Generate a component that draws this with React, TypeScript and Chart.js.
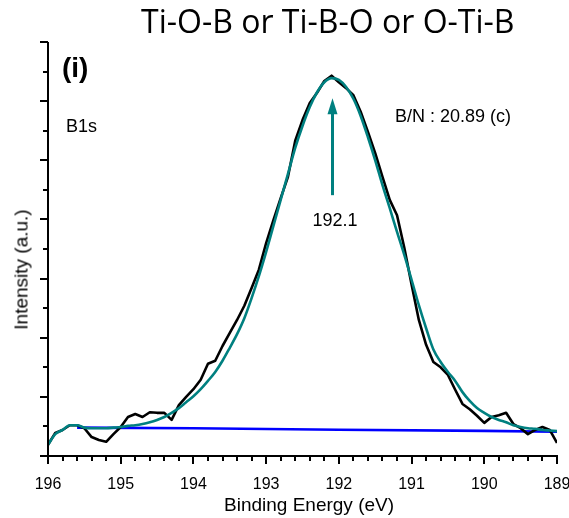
import React, { useEffect, useRef } from "react";
import { Chart, registerables } from "chart.js";

Chart.register(...registerables);

// Binding energy (eV), 0.1 eV steps
const ENERGY = [
  196.0, 195.9, 195.8, 195.7, 195.6, 195.5, 195.4, 195.3, 195.2, 195.1,
  195.0, 194.9, 194.8, 194.7, 194.6, 194.5, 194.4, 194.3, 194.2, 194.1,
  194.0, 193.9, 193.8, 193.7, 193.6, 193.5, 193.4, 193.3, 193.2, 193.1,
  193.0, 192.9, 192.8, 192.7, 192.6, 192.5, 192.4, 192.3, 192.2, 192.1,
  192.0, 191.9, 191.8, 191.7, 191.6, 191.5, 191.4, 191.3, 191.2, 191.1,
  191.0, 190.9, 190.8, 190.7, 190.6, 190.5, 190.4, 190.3, 190.2, 190.1,
  190.0, 189.9, 189.8, 189.7, 189.6, 189.5, 189.4, 189.3, 189.2, 189.1,
  189.0,
];

// Measured B1s spectrum (black)
const RAW = [
  190, 390, 440, 520, 520, 470, 320, 270, 240, 370,
  490, 660, 710, 660, 740, 730, 730, 610, 860, 1000,
  1130, 1290, 1560, 1610, 1860, 2080, 2300, 2540, 2840, 3150,
  3600, 3990, 4360, 4720, 5330, 5680, 5970, 6140, 6340, 6430,
  6320, 6220, 6100, 5820, 5480, 5120, 4720, 4330, 4070, 3520,
  2900, 2300, 1880, 1590, 1500, 1370, 1120, 880, 790, 680,
  560, 660, 690, 730, 540, 470, 370, 440, 490, 440,
  220,
];

// Fitted envelope (teal)
const FIT = [
  190, 370, 440, 520, 520, 480, 470, 470, 470, 480,
  490, 510, 520, 540, 570, 610, 660, 730, 810, 910,
  1010, 1130, 1270, 1420, 1610, 1830, 2060, 2330, 2670, 3040,
  3450, 3890, 4330, 4770, 5210, 5580, 5900, 6150, 6320, 6390,
  6360, 6240, 6040, 5750, 5390, 5000, 4580, 4190, 3790, 3400,
  2980, 2550, 2160, 1800, 1590, 1420, 1270, 1080, 930, 810,
  730, 660, 610, 570, 520, 490, 470, 460, 440, 430,
  420,
];

// Background (blue)
const BASE_E = [195.6, 194.0, 192.0, 190.0, 189.0];
const BASE_I = [480, 470, 445, 425, 410];

// Axis settings
const X_MIN = 189;
const X_MAX = 196;
const Y_MIN = 0;
const Y_MAX = 7000;

// Peak marker
const PEAK_E = 192.1;
const ARROW_FROM = 4410;
const ARROW_TO = 6050;

const TEAL = "#008080";
const FONT = "'Liberation Sans', Arial, Helvetica, sans-serif";

const axesPlugin = {
  id: "xpsAxes",
  afterDraw(chart: any) {
    const ctx = chart.ctx;
    const xs = chart.scales.x;
    const ys = chart.scales.y;
    const { left, right, top, bottom } = chart.chartArea;
    ctx.save();
    // arrow
    const ax = Math.round(xs.getPixelForValue(PEAK_E)) + 0.5;
    const ay0 = ys.getPixelForValue(ARROW_FROM);
    const ay1 = ys.getPixelForValue(ARROW_TO);
    const headLen = 16;
    const headHalf = 5;
    ctx.strokeStyle = TEAL;
    ctx.fillStyle = TEAL;
    ctx.lineWidth = 3;
    ctx.beginPath();
    ctx.moveTo(ax, ay0);
    ctx.lineTo(ax, ay1 + headLen - 1);
    ctx.stroke();
    ctx.beginPath();
    ctx.moveTo(ax, ay1);
    ctx.lineTo(ax - headHalf, ay1 + headLen);
    ctx.lineTo(ax + headHalf, ay1 + headLen);
    ctx.closePath();
    ctx.fill();

    // axes lines
    ctx.strokeStyle = "#000";
    ctx.lineWidth = 2;
    ctx.lineCap = "butt";
    ctx.beginPath();
    ctx.moveTo(left, top);
    ctx.lineTo(left, bottom + 1);
    ctx.moveTo(left - 1, bottom);
    ctx.lineTo(right + 1, bottom);
    ctx.stroke();

    // y ticks
    ctx.beginPath();
    const nY = Math.round((Y_MAX - Y_MIN) / 500);
    for (let i = 0; i <= nY; i++) {
      const v = Y_MIN + i * 500;
      const y = Math.round(ys.getPixelForValue(v));
      const len = i % 2 === 0 ? 8 : 5;
      ctx.moveTo(left - len, y);
      ctx.lineTo(left, y);
    }
    // x ticks
    const nX = Math.round((X_MAX - X_MIN) / 0.2);
    for (let i = 0; i <= nX; i++) {
      const v = X_MIN + i * 0.2;
      const x = Math.round(xs.getPixelForValue(v));
      const len = i % 5 === 0 ? 8 : 5;
      ctx.moveTo(x, bottom);
      ctx.lineTo(x, bottom + len);
    }
    ctx.stroke();
    ctx.restore();
  },
};

export default function App() {
  const canvasRef = useRef<HTMLCanvasElement | null>(null);

  useEffect(() => {
    const canvas = canvasRef.current;
    if (!canvas) return;
    const chart = new Chart(canvas, {
      type: "line",
      data: {
        datasets: [
          {
            label: "Fit",
            data: ENERGY.map((e, i) => ({ x: e, y: FIT[i] })),
            borderColor: TEAL,
            borderWidth: 2.6,
            pointRadius: 0,
            cubicInterpolationMode: "monotone",
            borderJoinStyle: "round",
            order: 0,
          },
          {
            label: "B1s",
            data: ENERGY.map((e, i) => ({ x: e, y: RAW[i] })),
            borderColor: "#000000",
            borderWidth: 2.6,
            pointRadius: 0,
            tension: 0,
            borderJoinStyle: "round",
            order: 1,
          },
          {
            label: "Background",
            data: BASE_E.map((e, i) => ({ x: e, y: BASE_I[i] })),
            borderColor: "#0000ff",
            borderWidth: 2.6,
            pointRadius: 0,
            tension: 0,
            order: 2,
          },
        ],
      },
      options: {
        responsive: false,
        animation: false,
        devicePixelRatio: 1,
        layout: { padding: { top: 42, right: 12, left: 0, bottom: 0 } },
        plugins: {
          legend: { display: false },
          tooltip: { enabled: false },
          title: { display: false },
        },
        scales: {
          x: {
            type: "linear",
            min: X_MIN,
            max: X_MAX,
            reverse: true,
            grid: { display: false },
            border: { display: false },
            ticks: {
              stepSize: 1,
              color: "#000",
              font: { family: FONT, size: 16 },
              padding: 11,
              maxRotation: 0,
              autoSkip: false,
              callback: (v: any) => String(v),
            },
            afterFit: (s: any) => {
              s.height = 62;
              s.paddingLeft = 0;
              s.paddingRight = 0;
            },
          },
          y: {
            type: "linear",
            min: Y_MIN,
            max: Y_MAX,
            grid: { display: false },
            border: { display: false },
            ticks: { display: false, stepSize: 500 },
            afterFit: (s: any) => {
              s.width = 48;
            },
          },
        },
      },
      plugins: [axesPlugin],
    } as any);
    return () => chart.destroy();
  }, []);

  const txt: React.CSSProperties = {
    position: "absolute",
    fontFamily: FONT,
    color: "#000",
    lineHeight: 1,
    whiteSpace: "nowrap",
    margin: 0,
  };

  return (
    <div
      style={{
        position: "fixed",
        left: 0,
        top: 0,
        width: 569,
        height: 518,
        background: "#fff",
        overflow: "hidden",
      }}
    >
      <canvas ref={canvasRef} width={569} height={518} style={{ position: "absolute", left: 0, top: 0 }} />
      <div style={{ ...txt, fontFamily: "'Open Sans', sans-serif", fontSize: 32, left: 141, top: 5 }}>
        Ti-O-B or Ti-B-O or O-Ti-B
      </div>
      <div style={{ ...txt, fontSize: 28, fontWeight: "bold", left: 62, top: 54 }}>(i)</div>
      <div style={{ ...txt, fontSize: 18, left: 66, top: 116.5 }}>B1s</div>
      <div style={{ ...txt, fontSize: 18, left: 395, top: 106.5 }}>B/N : 20.89 (c)</div>
      <div style={{ ...txt, fontSize: 18, left: 312.5, top: 210.8 }}>192.1</div>
      <div style={{ ...txt, fontSize: 19, left: 224, top: 494.6 }}>Binding Energy (eV)</div>
      <div
        style={{
          ...txt,
          fontSize: 19,
          width: 200,
          textAlign: "center",
          left: 21 - 100,
          top: 269 - 9.5,
          transform: "rotate(-90deg)",
          transformOrigin: "50% 50%",
        }}
      >
        Intensity (a.u.)
      </div>
    </div>
  );
}
